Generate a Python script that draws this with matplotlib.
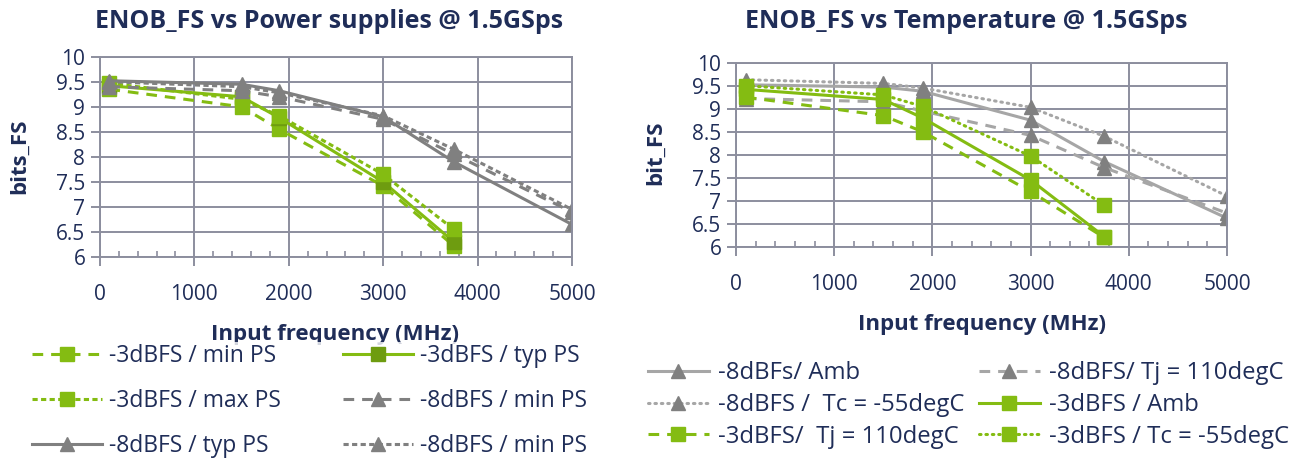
import numpy as np
import matplotlib
matplotlib.use("Agg")
import matplotlib.pyplot as plt
from matplotlib.ticker import MultipleLocator

plt.rcParams['font.family'] = ['Open Sans', 'DejaVu Sans']

# data
freq_3 = [100, 1500, 1900, 3000, 3750]
freq_8 = [100, 1500, 1900, 3000, 3750, 5000]

# left: power supplies
ps_3_min = [9.35, 9.0, 8.55, 7.42, 6.22]
ps_3_typ = [9.42, 9.2, 8.78, 7.5, 6.3]
ps_3_max = [9.47, 9.15, 8.82, 7.65, 6.55]
ps_8_min = [9.4, 9.32, 9.2, 8.75, 8.05, 6.9]
ps_8_typ = [9.52, 9.45, 9.32, 8.8, 7.9, 6.65]
ps_8_min2 = [9.5, 9.4, 9.28, 8.82, 8.15, 6.95]

# right: temperature
t_8_amb = [9.52, 9.47, 9.38, 8.75, 7.85, 6.62]
t_8_tj = [9.22, 9.15, 8.95, 8.42, 7.72, 6.73]
t_8_tc = [9.63, 9.55, 9.45, 9.03, 8.4, 7.1]
t_3_amb = [9.42, 9.2, 8.8, 7.45, 6.22]
t_3_tj = [9.25, 8.85, 8.5, 7.2, 6.2]
t_3_tc = [9.5, 9.3, 9.05, 7.97, 6.9]

xticks = [0, 1000, 2000, 3000, 4000, 5000]
yticks = [6, 6.5, 7, 7.5, 8, 8.5, 9, 9.5, 10]
ytick_labels = ['6', '6.5', '7', '7.5', '8', '8.5', '9', '9.5', '10']

navy = '#1f2d58'
gridc = '#8c8e9e'
green = '#84bc12'
dgreen = '#6e9c10'
grey = '#808080'
lgrey = '#a6a6a6'

long_dash = (0, (3.5, 2.6))
short_dash = (0, (1.7, 1.1))
dots = (0, (0.5, 1.6))

fig = plt.figure(figsize=(13.1, 4.61), dpi=100)

def setup(ax):
	ax.set_xlim(0, 5000)
	ax.set_ylim(6, 10)
	ax.set_xticks(xticks)
	ax.set_yticks(yticks)
	ax.set_yticklabels(ytick_labels)
	ax.xaxis.set_minor_locator(MultipleLocator(200))
	ax.grid(True, which='major', color=gridc, linewidth=1.4)
	ax.set_axisbelow(True)
	for s in ax.spines.values():
		s.set_color(gridc)
		s.set_linewidth(1.4)
	ax.tick_params(which='major', direction='out', length=6.5, width=1.4, color=gridc,
		labelsize=15, labelcolor=navy)
	ax.tick_params(axis='x', which='major', pad=13)
	ax.tick_params(axis='y', which='major', pad=4)
	ax.tick_params(axis='x', which='minor', direction='in', length=4.5, width=1.2, color=gridc)

ms = 9.5
lw = 2.2

# ---- left chart
ax1 = fig.add_axes([0.0763, 0.4425, 0.3603, 0.4345])
setup(ax1)
h1, = ax1.plot(freq_3, ps_3_min, linestyle=long_dash, color=green, lw=lw, marker='s', ms=ms, mfc=green, mec=green)
h2, = ax1.plot(freq_3, ps_3_typ, '-', color=green, lw=lw, marker='s', ms=ms, mfc=dgreen, mec=dgreen)
h3, = ax1.plot(freq_3, ps_3_max, linestyle=short_dash, color=green, lw=lw, marker='s', ms=ms, mfc=green, mec=green)
h4, = ax1.plot(freq_8, ps_8_min, linestyle=long_dash, color=grey, lw=lw, marker='^', ms=ms, mfc=grey, mec=grey)
h5, = ax1.plot(freq_8, ps_8_typ, '-', color=grey, lw=lw, marker='^', ms=ms, mfc=grey, mec=grey)
h6, = ax1.plot(freq_8, ps_8_min2, linestyle=short_dash, color=grey, lw=lw, marker='^', ms=ms, mfc=grey, mec=grey)

fig.text(329.5/1310, 1 - 28.5/461, 'ENOB_FS vs Power supplies @ 1.5GSps', ha='center', va='baseline',
	fontsize=18, fontweight='bold', color=navy)
fig.text(20/1310, 1 - 156/461, 'bits_FS', rotation=90, ha='center', va='center',
	fontsize=16, fontweight='bold', color=navy)
fig.text(335/1310, 1 - 340/461, 'Input frequency (MHz)', ha='center', va='baseline',
	fontsize=16, fontweight='bold', color=navy)

leg1 = fig.legend([h1, h3, h5, h2, h4, h6],
	['-3dBFS / min PS', '-3dBFS / max PS', '-8dBFS / typ PS',
	 '-3dBFS / typ PS', '-8dBFS / min PS', '-8dBFS / min PS'],
	ncol=2, loc='upper left', bbox_to_anchor=(30/1310, 1 - 342/461), frameon=True,
	fontsize=16.5, handlelength=3.05, handletextpad=0.3, columnspacing=2.7,
	labelspacing=0.9, borderpad=0.1, borderaxespad=0)
leg1.get_frame().set_facecolor('white')
leg1.get_frame().set_edgecolor('none')
for t in leg1.get_texts():
	t.set_color(navy)

# ---- right chart
ax2 = fig.add_axes([0.5618, 0.4649, 0.3748, 0.3991])
setup(ax2)
g1, = ax2.plot(freq_8, t_8_amb, '-', color=lgrey, lw=lw, marker='^', ms=ms, mfc=grey, mec=grey)
g2, = ax2.plot(freq_8, t_8_tj, linestyle=long_dash, color=lgrey, lw=lw, marker='^', ms=ms, mfc=grey, mec=grey)
g3, = ax2.plot(freq_8, t_8_tc, linestyle=dots, color=lgrey, lw=lw, marker='^', ms=ms, mfc=grey, mec=grey,
	dash_capstyle='round')
g4, = ax2.plot(freq_3, t_3_amb, '-', color=green, lw=lw, marker='s', ms=ms, mfc=green, mec=green)
g5, = ax2.plot(freq_3, t_3_tj, linestyle=long_dash, color=green, lw=lw, marker='s', ms=ms, mfc=green, mec=green)
g6, = ax2.plot(freq_3, t_3_tc, linestyle=dots, color=green, lw=lw, marker='s', ms=ms, mfc=green, mec=green,
	dash_capstyle='round')

fig.text(966.5/1310, 1 - 28.5/461, 'ENOB_FS vs Temperature @ 1.5GSps', ha='center', va='baseline',
	fontsize=18, fontweight='bold', color=navy)
fig.text(656/1310, 1 - 153/461, 'bit_FS', rotation=90, ha='center', va='center',
	fontsize=16, fontweight='bold', color=navy)
fig.text(982/1310, 1 - 330/461, 'Input frequency (MHz)', ha='center', va='baseline',
	fontsize=16, fontweight='bold', color=navy)

leg2 = fig.legend([g1, g3, g5, g2, g4, g6],
	['-8dBFs/ Amb', '-8dBFS /  Tc = -55degC', '-3dBFS/  Tj = 110degC',
	 '-8dBFS/ Tj = 110degC', '-3dBFS / Amb', '-3dBFS / Tc = -55degC'],
	ncol=2, loc='upper left', bbox_to_anchor=(648/1310, 1 - 361/461), frameon=False,
	fontsize=17.2, handlelength=2.55, handletextpad=0.37, columnspacing=0.62,
	labelspacing=0.33, borderpad=0, borderaxespad=0)
for t in leg2.get_texts():
	t.set_color(navy)

fig.savefig('out.png', dpi=100)
